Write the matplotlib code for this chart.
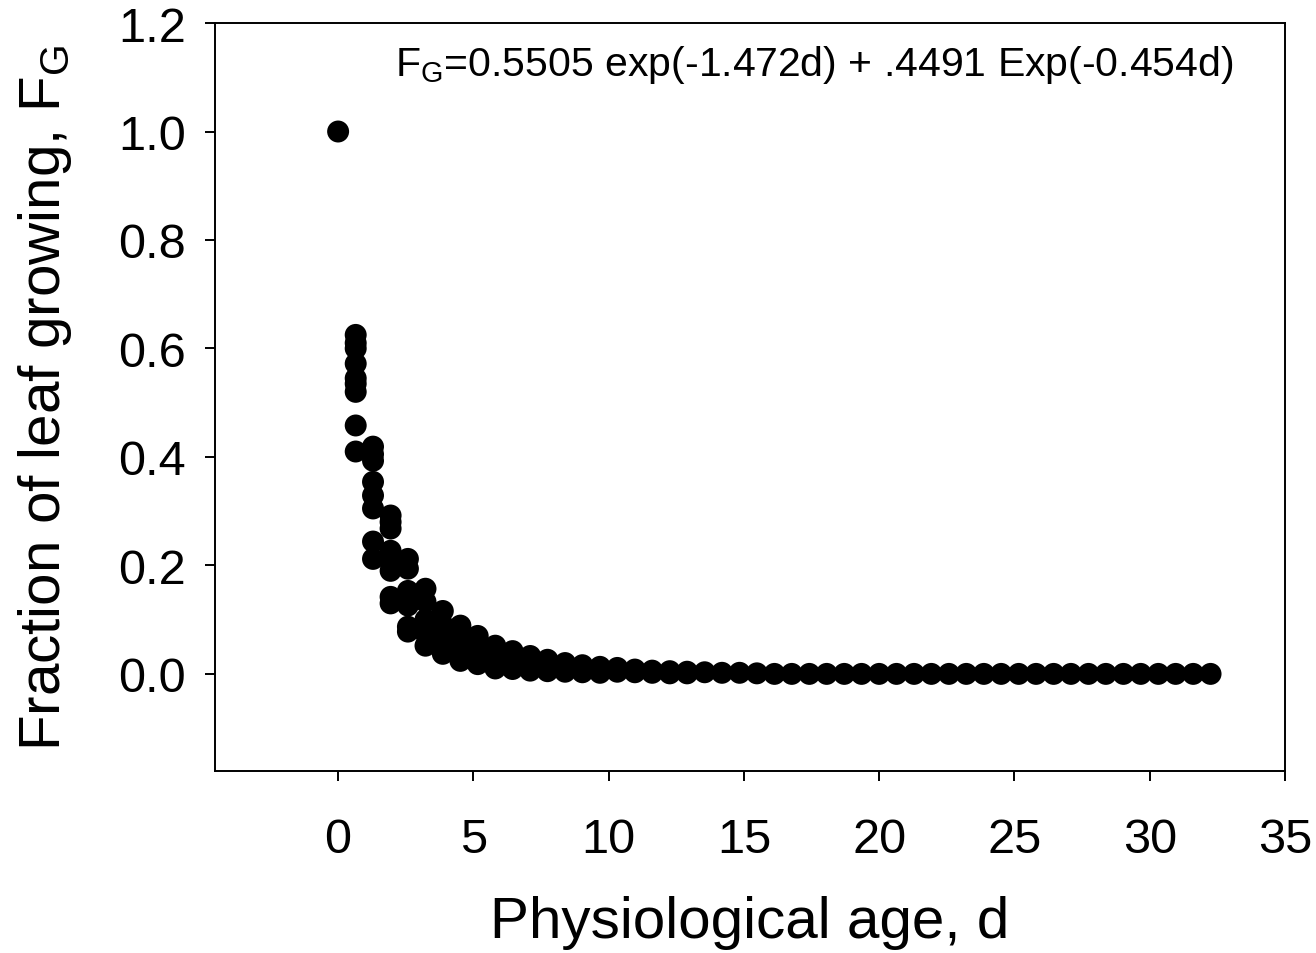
import matplotlib
matplotlib.use("Agg")
import matplotlib.pyplot as plt

plt.rcParams['font.family'] = ['Liberation Sans', 'DejaVu Sans']
plt.rcParams['mathtext.fontset'] = 'custom'
plt.rcParams['mathtext.rm'] = 'Liberation Sans'
plt.rcParams['mathtext.it'] = 'Liberation Sans'

# physiological age of each sampling column, d
age = [0, 0.65, 1.29, 1.94, 2.58, 3.23, 3.87, 4.52, 5.16, 5.81, 6.45, 7.10,
       7.74, 8.39, 9.03, 9.68, 10.32, 10.97, 11.61, 12.26, 12.90, 13.55, 14.19,
       14.84, 15.48, 16.13, 16.77, 17.42, 18.06, 18.71, 19.35, 20.00, 20.64,
       21.29, 21.93, 22.58, 23.22, 23.87, 24.51, 25.16, 25.80, 26.45, 27.09,
       27.74, 28.38, 29.03, 29.67, 30.32, 30.96, 31.61, 32.25]

# fraction of leaf growing observed at each age (several leaves per column)
frac = [
    [1.0],
    [0.625, 0.61, 0.60, 0.572, 0.545, 0.535, 0.52, 0.458, 0.41],
    [0.419, 0.405, 0.393, 0.354, 0.329, 0.305, 0.244, 0.212],
    [0.292, 0.28, 0.268, 0.227, 0.205, 0.19, 0.142, 0.13],
    [0.212, 0.194, 0.153, 0.14, 0.126, 0.087, 0.078],
    [0.157, 0.133, 0.10, 0.075, 0.052],
    [0.116, 0.09, 0.068, 0.05, 0.037],
    [0.089, 0.07, 0.05, 0.035, 0.024],
    [0.07, 0.05, 0.035, 0.025, 0.018],
    [0.052, 0.035, 0.02, 0.01],
    [0.042, 0.025, 0.015, 0.009],
    [0.033, 0.02, 0.01, 0.006],
    [0.026, 0.015, 0.005],
    [0.02, 0.01, 0.004],
    [0.016, 0.008, 0.003],
    [0.013, 0.006, 0.002],
    [0.011, 0.004],
    [0.008, 0.003],
    [0.006, 0.002],
    [0.005, 0.001],
    [0.004, 0.001],
    [0.003], [0.002], [0.002], [0.001],
] + [[0.0]] * 26

xticks = [0, 5, 10, 15, 20, 25, 30, 35]
yticks = [0.0, 0.2, 0.4, 0.6, 0.8, 1.0, 1.2]

xs, ys = [], []
for a, col in zip(age, frac):
    for v in col:
        xs.append(a)
        ys.append(v)

fig = plt.figure(figsize=(13.16, 9.54), dpi=100)
ax = fig.add_axes([0.1634, 0.1908, 0.813, 0.784])
ax.scatter(xs, ys, s=250, c='black', edgecolors='none', zorder=3)

ax.set_xlim(-4.55, 35)
ax.set_ylim(-0.179, 1.2)
ax.set_xticks(xticks)
ax.set_yticks(yticks)
ax.set_yticklabels(['%.1f' % v for v in yticks])
ax.tick_params(direction='out', length=7, width=1.4, labelsize=35)
ax.tick_params(axis='y', pad=14)
ax.tick_params(axis='x', pad=26)
for sp in ax.spines.values():
    sp.set_linewidth(1.4)

ax.set_xlabel('Physiological age, d', fontsize=42, labelpad=24)
ax.set_ylabel(r'Fraction of leaf growing, $\mathregular{F_G}$', fontsize=42, labelpad=32)

ax.text(0.168, 0.945, r'$\mathregular{F_G}$=0.5505 exp(-1.472d) + .4491 Exp(-0.454d)',
        transform=ax.transAxes, fontsize=29.5, va='center', ha='left')

fig.savefig('out.png', dpi=100)
